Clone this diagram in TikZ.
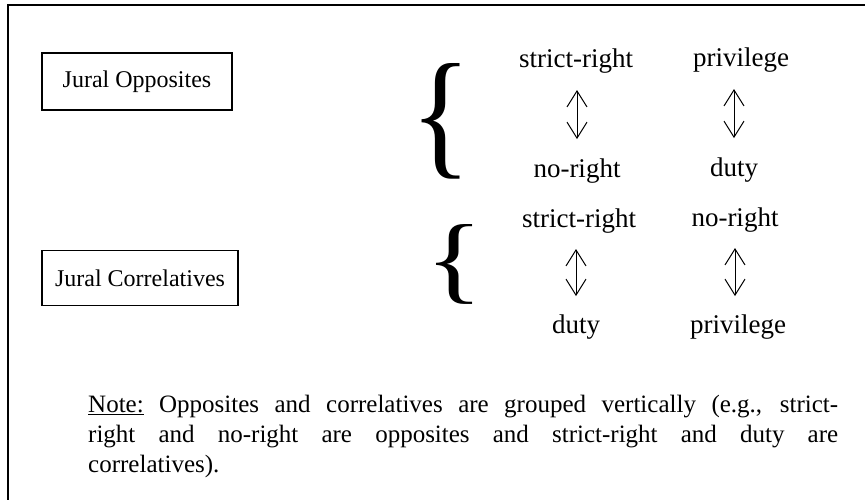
\documentclass[tikz,border=0pt]{standalone}
\usepackage{fontspec}
\setmainfont{Liberation Serif}
\usetikzlibrary{arrows.meta}
\tikzset{
  txt/.style={inner sep=0pt, font=\fontsize{27}{33}\selectfont, anchor=base},
  labelbox/.style={draw, line width=1.5pt, inner sep=0pt, font=\fontsize{24}{29}\selectfont},
  bracenode/.style={inner sep=0pt},
  dbl/.style={line width=1pt, {Straight Barb[length=16pt,width=20pt,line width=1pt]}-{Straight Barb[length=16pt,width=20pt,line width=1pt]}},
  frame/.style={line width=2.5pt}
}
\begin{document}
\begin{tikzpicture}[x=1pt,y=-1pt]
\useasboundingbox (0,0) rectangle (865,499);
% frame (open at right and bottom)
\coordinate (fbl) at (8,505);
\coordinate (ftl) at (8,5);
\coordinate (ftr) at (870,5);
\draw[frame] (fbl) -- (ftl) -- (ftr);
% boxes
\node[labelbox, minimum width=190pt, minimum height=57pt] (opp) at (137,81.5) {Jural Opposites};
\node[labelbox, minimum width=196pt, minimum height=55pt] (cor) at (140,278) {Jural Correlatives};
% braces
\node[bracenode] (br1) at (441,121.5) {\resizebox{61pt}{97pt}{\{}};
\node[bracenode] (br2) at (455,264.5) {\resizebox{58pt}{67pt}{\{}};
% group 1
\node[txt] (sr1) at (576,67) {strict-right};
\node[txt] (pv1) at (741,66) {privilege};
\node[txt] (nr1) at (577,177) {no-right};
\node[txt] (du1) at (734,176) {duty};
\draw[dbl, shorten <=17pt, shorten >=19pt] (sr1.south -| nr1.north) -- (nr1.north);
\draw[dbl, shorten <=17pt, shorten >=19pt] (pv1.south -| du1.north) -- (du1.north);
% group 2
\node[txt] (sr2) at (579,227) {strict-right};
\node[txt] (nr2) at (735,226) {no-right};
\node[txt] (du2) at (576,333) {duty};
\node[txt] (pv2) at (738,333) {privilege};
\draw[dbl, shorten <=16pt, shorten >=18pt] (sr2.south -| du2.north) -- (du2.north);
\draw[dbl, shorten <=16pt, shorten >=18pt] (nr2.south) -- (nr2.south |- pv2.north);
% note
\node[anchor=north west, inner sep=0pt, text width=750pt, align=justify,
      font=\fontsize{25}{30}\selectfont] (note) at (88,395)
  {\underline{Note:} Opposites and correlatives are grouped vertically (e.g., strict-\linebreak right and no-right are opposites and strict-right and duty are\linebreak correlatives).};
\end{tikzpicture}
\end{document}
